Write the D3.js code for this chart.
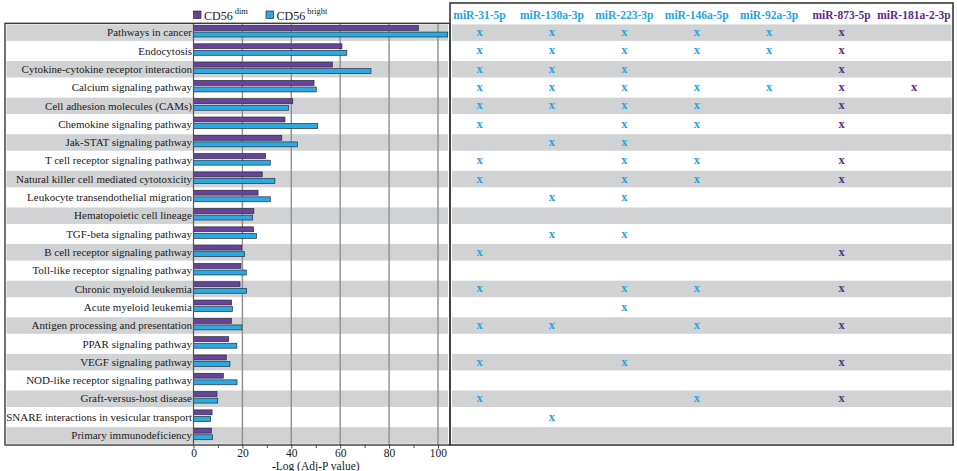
<!DOCTYPE html>
<html>
<head>
<meta charset="utf-8">
<script src="https://cdn.jsdelivr.net/npm/d3@7"></script>
<style>
  html, body { margin: 0; padding: 0; background: #fff; }
  svg { display: block; }
  svg text { font-family: "Liberation Serif", "Times New Roman", serif; }
</style>
</head>
<body>
<svg id="chart" width="957" height="471"></svg>
<script>
// ---------------- data ----------------
const categories = [
  "Pathways in cancer", "Endocytosis", "Cytokine-cytokine receptor interaction",
  "Calcium signaling pathway", "Cell adhesion molecules (CAMs)", "Chemokine signaling pathway",
  "Jak-STAT signaling pathway", "T cell receptor signaling pathway",
  "Natural killer cell mediated cytotoxicity", "Leukocyte transendothelial migration",
  "Hematopoietic cell lineage", "TGF-beta signaling pathway", "B cell receptor signaling pathway",
  "Toll-like receptor signaling pathway", "Chronic myeloid leukemia", "Acute myeloid leukemia",
  "Antigen processing and presentation", "PPAR signaling pathway", "VEGF signaling pathway",
  "NOD-like receptor signaling pathway", "Graft-versus-host disease",
  "SNARE interactions in vesicular transport", "Primary immunodeficiency"
];
const dimValues    = [92, 60.7, 56.8, 49.3, 40.6, 37.4, 36.1, 29.5, 28.1, 26.4, 24.7, 24.6, 19.7, 19.4, 19.0, 15.6, 15.5, 14.4, 13.4, 12.2, 9.6, 7.6, 7.3];
const brightValues = [104, 62.7, 72.6, 50.2, 38.9, 50.8, 42.6, 31.4, 33.3, 31.4, 24.2, 25.8, 20.8, 21.6, 21.7, 15.9, 19.8, 17.7, 14.9, 17.8, 9.9, 7.0, 7.8];
const seriesNames = ["dim", "bright"];
const xTickValues = [0, 20, 40, 60, 80, 100];
const xMinorTicks = [10, 30, 50, 70, 90];
const xAxisTitle = "-Log (Adj-P value)";

const mirNames = ["miR-31-5p", "miR-130a-3p", "miR-223-3p", "miR-146a-5p", "miR-92a-3p", "miR-873-5p", "miR-181a-2-3p"];
const mirGroup = ["bright", "bright", "bright", "bright", "bright", "dim", "dim"];
const mir31   = [1,1,1,1,1,1,0,1,1,0,0,0,1,0,1,0,1,0,1,0,1,0,0];
const mir130a = [1,1,1,1,1,0,1,0,0,1,0,1,0,0,0,0,1,0,0,0,0,1,0];
const mir223  = [1,1,1,1,1,1,1,1,1,1,0,1,0,0,1,1,0,0,1,0,0,0,0];
const mir146a = [1,1,0,1,1,1,0,1,1,0,0,0,0,0,1,0,1,0,0,0,1,0,0];
const mir92a  = [1,1,0,1,0,0,0,0,0,0,0,0,0,0,0,0,0,0,0,0,0,0,0];
const mir873  = [1,1,1,1,1,1,0,1,1,0,0,0,1,0,1,0,1,0,1,0,1,0,0];
const mir181a = [0,0,0,1,0,0,0,0,0,0,0,0,0,0,0,0,0,0,0,0,0,0,0];
const mirMatrix = [mir31, mir130a, mir223, mir146a, mir92a, mir873, mir181a];

// ---------------- styles ----------------
const FONT = "Liberation Serif, Times New Roman, serif";
const colors = { dim: "#67449b", bright: "#29abe2" };
const textColors = { dim: "#5a2d8c", bright: "#1fa6e3" };
const stripe = "#d1d2d4";

const svg = d3.select("#chart").attr("font-family", FONT);

const leftX0 = 5, leftX1 = 450, rightX1 = 953;
const plotTop = 24, plotBottom = 445;

const x = d3.scaleLinear().domain([0, 105]).range([193.5, 450.2]);
const y = d3.scaleBand().domain(categories).range([plotTop, plotBottom]).paddingInner(0).paddingOuter(0);
const sub = d3.scaleBand().domain(seriesNames).range([1.5, 13]).paddingInner(0.25).paddingOuter(0);
const colX = d3.scalePoint().domain(mirNames).range([479.5, 914]);

// stripes
categories.forEach((c, i) => {
  if (i % 2 === 0) {
    svg.append("rect").attr("x", leftX0 + 1.5).attr("y", y(c) + 0.4)
      .attr("width", leftX1 - leftX0 - 3.5).attr("height", y.bandwidth() - 1.8).attr("fill", stripe);
    svg.append("rect").attr("x", leftX1 + 2).attr("y", y(c) + 0.4)
      .attr("width", rightX1 - leftX1 - 3.5).attr("height", y.bandwidth() - 1.8).attr("fill", stripe);
  }
});

// gridlines
svg.append("g").selectAll("line").data(xTickValues.filter(d => d > 0)).join("line")
  .attr("x1", d => x(d)).attr("x2", d => x(d))
  .attr("y1", plotTop).attr("y2", plotBottom)
  .attr("stroke", "#8f8f8f").attr("stroke-width", 1.4);

// bars
const rows = categories.map((c, i) => ({ c, dim: dimValues[i], bright: brightValues[i] }));
const gBars = svg.append("g");
seriesNames.forEach(s => {
  gBars.selectAll("rect." + s).data(rows).join("rect")
    .attr("class", s)
    .attr("x", x(0))
    .attr("y", d => y(d.c) + sub(s))
    .attr("width", d => x(d[s]) - x(0))
    .attr("height", sub.bandwidth())
    .attr("fill", colors[s])
    .attr("stroke", "#2b2b3a").attr("stroke-width", 0.7);
});

// zero axis line
svg.append("line").attr("x1", x(0)).attr("x2", x(0)).attr("y1", plotTop).attr("y2", plotBottom)
  .attr("stroke", "#555").attr("stroke-width", 1.2);

// category labels
svg.append("g").selectAll("text").data(categories).join("text")
  .attr("x", x(0) - 1.5).attr("y", d => y(d) + y.bandwidth() / 2 + 3.2)
  .attr("text-anchor", "end").attr("font-size", 11).attr("font-family", FONT).attr("fill", "#1a1a1a")
  .text(d => d);

// bottom axis
const axis = d3.axisBottom(x).tickValues(xTickValues).tickSize(3.5).tickPadding(0.5).tickFormat(d3.format("d"));
const gAxis = svg.append("g").attr("transform", `translate(0,${plotBottom})`).call(axis);
gAxis.attr("font-family", FONT);
gAxis.select(".domain").remove();
gAxis.selectAll("text").attr("font-family", FONT).attr("font-size", 11.5).attr("fill", "#1a1a1a");
gAxis.selectAll("line").attr("stroke", "#444");
const gMinor = svg.append("g").attr("transform", `translate(0,${plotBottom})`)
  .call(d3.axisBottom(x).tickValues(xMinorTicks).tickSize(3).tickFormat(""));
gMinor.select(".domain").remove();
gMinor.selectAll("line").attr("stroke", "#444");

svg.append("text").attr("x", x(50)).attr("y", 469.5)
  .attr("text-anchor", "middle").attr("font-size", 11.5).attr("font-family", FONT).attr("fill", "#1a1a1a").text(xAxisTitle);

// panel borders
svg.append("rect").attr("x", leftX0).attr("y", plotTop - 0.7).attr("width", leftX1 - leftX0).attr("height", plotBottom - plotTop + 0.7)
  .attr("fill", "none").attr("stroke", "#3a3a3a").attr("stroke-width", 1.4);
svg.append("rect").attr("x", leftX1).attr("y", 3).attr("width", rightX1 - leftX1).attr("height", plotBottom - 3)
  .attr("fill", "none").attr("stroke", "#3a3a3a").attr("stroke-width", 1.6);

// legend
const legend = svg.append("g");
const legendItems = [
  { s: "dim", x: 193.5, label: "CD56", sup: "dim" },
  { s: "bright", x: 266, label: "CD56", sup: "bright" }
];
legendItems.forEach(it => {
  legend.append("rect").attr("x", it.x).attr("y", 11).attr("width", 7.5).attr("height", 7.5)
    .attr("fill", colors[it.s]).attr("stroke", "#2b2b3a").attr("stroke-width", 0.7);
  const t = legend.append("text").attr("x", it.x + 10.5).attr("y", 19.5)
    .attr("font-size", 12).attr("font-family", FONT).attr("fill", "#1a1a1a");
  t.append("tspan").text(it.label);
  t.append("tspan").attr("dx", 2).attr("dy", -5.5).attr("font-size", 8.5).text(it.sup);
});

// miRNA headers
svg.append("g").selectAll("text").data(mirNames).join("text")
  .attr("x", d => colX(d)).attr("y", 18.5)
  .attr("text-anchor", "middle").attr("font-size", 11.5).attr("font-weight", "bold").attr("font-family", FONT)
  .attr("fill", (d, i) => textColors[mirGroup[i]])
  .text(d => d);

// x marks
const marks = [];
mirMatrix.forEach((arr, j) => arr.forEach((v, i) => { if (v) marks.push({ m: mirNames[j], g: mirGroup[j], c: categories[i] }); }));
svg.append("g").selectAll("text").data(marks).join("text")
  .attr("x", d => colX(d.m)).attr("y", d => y(d.c) + y.bandwidth() / 2 + 3)
  .attr("text-anchor", "middle").attr("font-size", 12.5).attr("font-weight", "bold").attr("font-family", FONT)
  .attr("fill", d => textColors[d.g])
  .text("x");
</script>
</body>
</html>
